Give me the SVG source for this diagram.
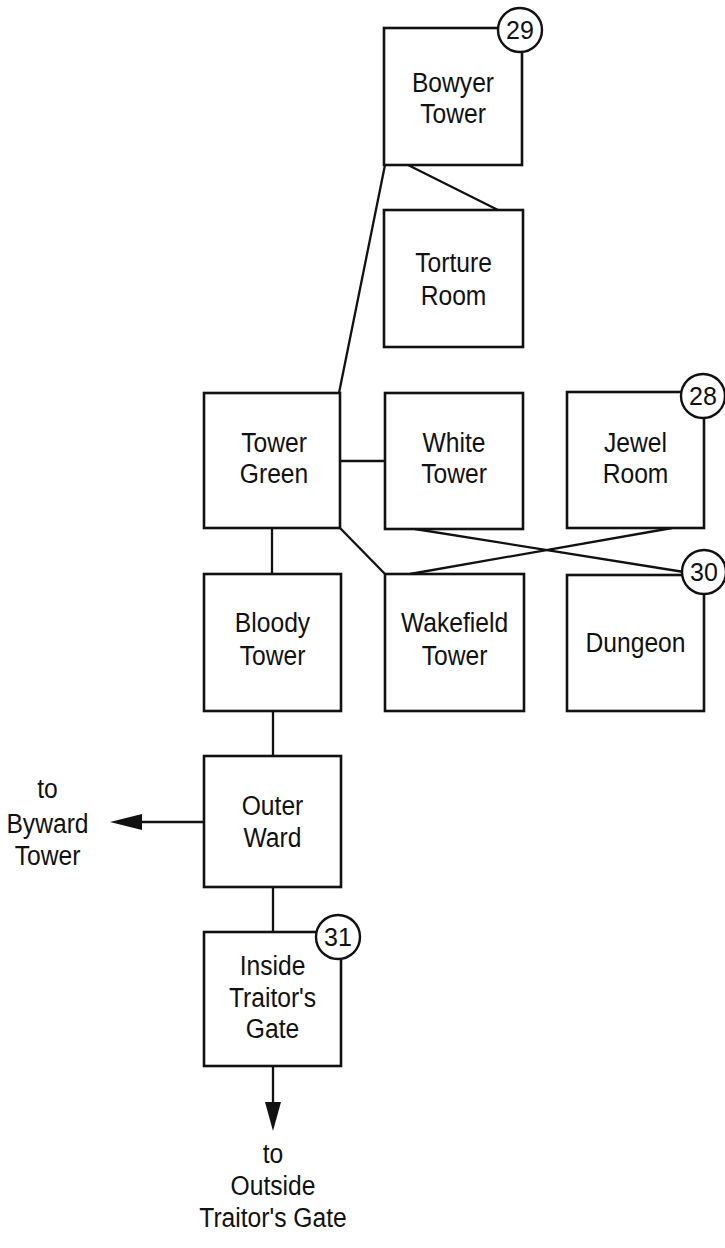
<svg xmlns="http://www.w3.org/2000/svg" width="725" height="1248" viewBox="0 0 725 1248">
<style>
.box{fill:#fff;stroke:#111;stroke-width:2.6}
.lbl{font-family:"Liberation Sans",Arial,sans-serif;font-size:28px;fill:#111;text-anchor:middle}
.num{font-family:"Liberation Sans",Arial,sans-serif;font-size:25px;fill:#111;text-anchor:middle}
.badge{fill:#fff;stroke:#111;stroke-width:2.4}
.con{stroke:#111;stroke-width:2.3;fill:none}
.head{fill:#111}
</style>
<rect width="725" height="1248" fill="#fff"/>
<g id="connectors">
<line class="con" x1="385" y1="165" x2="339" y2="393"/>
<line class="con" x1="408" y1="165" x2="498" y2="210"/>
<line class="con" x1="340" y1="461" x2="385" y2="461"/>
<line class="con" x1="272" y1="528" x2="272" y2="574"/>
<line class="con" x1="340" y1="528" x2="385" y2="574"/>
<line class="con" x1="415" y1="529" x2="684" y2="572"/>
<line class="con" x1="410" y1="574" x2="672" y2="528"/>
<line class="con" x1="273" y1="711" x2="273" y2="756"/>
<line class="con" x1="273" y1="887" x2="273" y2="932"/>
<line class="con" x1="204" y1="822" x2="140" y2="822"/>
<polygon class="head" points="110,822 142,814 142,830"/>
<line class="con" x1="273" y1="1066" x2="273" y2="1104"/>
<polygon class="head" points="273,1131 265,1102 281,1102"/>
</g>
<g id="bowyer">
<rect class="box" x="384" y="28" width="138" height="137"/>
<text class="lbl" transform="translate(453 0) scale(0.88 1)"><tspan x="0" y="92">Bowyer</tspan><tspan x="0" y="123">Tower</tspan></text>
<circle class="badge" cx="520" cy="30" r="22"/>
<text class="num" x="520" y="39">29</text>
</g>
<g id="torture">
<rect class="box" x="384" y="210" width="139" height="137"/>
<text class="lbl" transform="translate(453.5 0) scale(0.88 1)"><tspan x="0" y="272">Torture</tspan><tspan x="0" y="305">Room</tspan></text>
</g>
<g id="towergreen">
<rect class="box" x="204" y="393" width="136" height="135"/>
<text class="lbl" transform="translate(274 0) scale(0.88 1)"><tspan x="0" y="452">Tower</tspan><tspan x="0" y="483">Green</tspan></text>
</g>
<g id="whitetower">
<rect class="box" x="385" y="393" width="138" height="136"/>
<text class="lbl" transform="translate(454 0) scale(0.88 1)"><tspan x="0" y="452">White</tspan><tspan x="0" y="483">Tower</tspan></text>
</g>
<g id="jewelroom">
<rect class="box" x="567" y="392" width="137" height="136"/>
<text class="lbl" transform="translate(635.5 0) scale(0.88 1)"><tspan x="0" y="452">Jewel</tspan><tspan x="0" y="483">Room</tspan></text>
<circle class="badge" cx="703" cy="396" r="22"/>
<text class="num" x="703" y="405">28</text>
</g>
<g id="bloodytower">
<rect class="box" x="204" y="574" width="137" height="137"/>
<text class="lbl" transform="translate(272.5 0) scale(0.88 1)"><tspan x="0" y="632">Bloody</tspan><tspan x="0" y="665">Tower</tspan></text>
</g>
<g id="wakefieldtower">
<rect class="box" x="385" y="574" width="139" height="137"/>
<text class="lbl" transform="translate(454.5 0) scale(0.88 1)"><tspan x="0" y="632">Wakefield</tspan><tspan x="0" y="665">Tower</tspan></text>
</g>
<g id="dungeon">
<rect class="box" x="567" y="575" width="137" height="136"/>
<text class="lbl" transform="translate(635.5 0) scale(0.88 1)" x="0" y="652">Dungeon</text>
<circle class="badge" cx="704" cy="572" r="22"/>
<text class="num" x="704" y="581">30</text>
</g>
<g id="outerward">
<rect class="box" x="204" y="756" width="137" height="131"/>
<text class="lbl" transform="translate(272.5 0) scale(0.88 1)"><tspan x="0" y="815">Outer</tspan><tspan x="0" y="847">Ward</tspan></text>
</g>
<g id="insidetraitorsgate">
<rect class="box" x="204" y="932" width="137" height="134"/>
<text class="lbl" transform="translate(272.5 0) scale(0.88 1)"><tspan x="0" y="975">Inside</tspan><tspan x="0" y="1007">Traitor's</tspan><tspan x="0" y="1038">Gate</tspan></text>
<circle class="badge" cx="338" cy="937" r="22"/>
<text class="num" x="338" y="946">31</text>
</g>
<g id="byward">
<text class="lbl" transform="translate(47.5 0) scale(0.88 1)"><tspan x="0" y="798">to</tspan><tspan x="0" y="833">Byward</tspan><tspan x="0" y="865">Tower</tspan></text>
</g>
<g id="outsidetraitorsgate">
<text class="lbl" transform="translate(273 0) scale(0.88 1)"><tspan x="0" y="1163">to</tspan><tspan x="0" y="1195">Outside</tspan><tspan x="0" y="1227">Traitor's Gate</tspan></text>
</g>
</svg>
